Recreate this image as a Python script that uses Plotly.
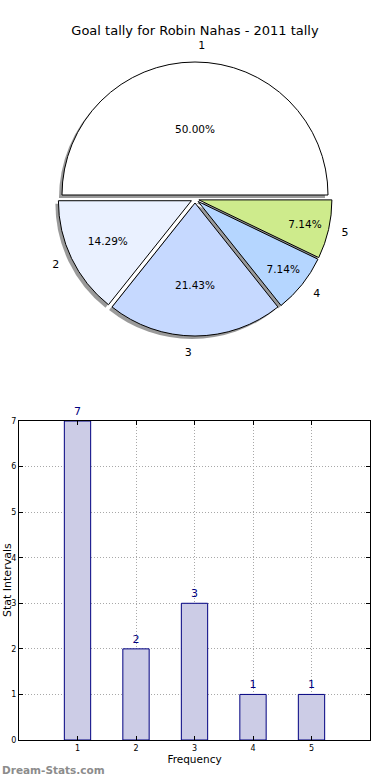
import plotly.graph_objects as go

# ---- data ----
pie_labels = ["1", "2", "3", "4", "5"]
pie_values = [7, 2, 3, 1, 1]
pie_colors = ["#FFFFFF", "#EAF1FF", "#C6D9FF", "#B5D6FF", "#CEEB8C"]
pie_pull = [0.03, 0.03, 0.03, 0.03, 0.03]

bar_x = [1, 2, 3, 4, 5]
bar_y = [7, 2, 3, 1, 1]
x_ticks = [1, 2, 3, 4, 5]
y_ticks = [0, 1, 2, 3, 4, 5, 6, 7]

W, H = 390, 780
FONT = "DejaVu Sans"

def px_x(p):
    return p / W

def px_y(p):
    return 1 - p / H

PIE_CY = 199
PIE_HALF = 137          # half of pie domain height (px)
LABEL_HALF = 147        # half of label-ring domain height (px)
sh = 3

pie_dom_y = [px_y(PIE_CY + PIE_HALF), px_y(PIE_CY - PIE_HALF)]
pie_dom_x = [0, 1]
shadow_dom_y = [px_y(PIE_CY + PIE_HALF + sh), px_y(PIE_CY - PIE_HALF + sh)]
shadow_dom_x = [0, 1 - 2 * sh / W]
label_dom_y = [px_y(PIE_CY + LABEL_HALF), px_y(PIE_CY - LABEL_HALF)]

fig = go.Figure()

# shadow
fig.add_trace(go.Pie(
    labels=pie_labels, values=pie_values, sort=False,
    direction="counterclockwise", rotation=-90, pull=pie_pull,
    marker=dict(colors=["rgba(120,120,120,0.75)"] * 5, line=dict(width=0)),
    textinfo="none", hoverinfo="skip", showlegend=False,
    domain=dict(x=shadow_dom_x, y=shadow_dom_y),
))
# main pie
fig.add_trace(go.Pie(
    labels=pie_labels, values=pie_values, sort=False,
    direction="counterclockwise", rotation=-90, pull=pie_pull,
    marker=dict(colors=pie_colors, line=dict(color="#000000", width=1)),
    texttemplate="%{percent:.2%}", textposition="inside",
    insidetextorientation="horizontal",
    textfont=dict(family=FONT, size=10.5, color="#000000"),
    showlegend=False,
    domain=dict(x=pie_dom_x, y=pie_dom_y),
))
# outer labels (transparent ring slightly larger than the pie)
fig.add_trace(go.Pie(
    labels=pie_labels, values=pie_values, sort=False,
    direction="counterclockwise", rotation=-90, pull=pie_pull,
    marker=dict(colors=["rgba(0,0,0,0)"] * 5, line=dict(width=0)),
    textinfo="label", textposition="outside",
    outsidetextfont=dict(family=FONT, size=11, color="#000000"),
    hoverinfo="skip", showlegend=False,
    domain=dict(x=pie_dom_x, y=label_dom_y),
))

# bars
fig.add_trace(go.Bar(
    x=bar_x, y=bar_y, width=0.45,
    marker=dict(color="#CCCCE6", line=dict(color="#000080", width=1)),
    text=[str(v) for v in bar_y], textposition="outside",
    textfont=dict(family=FONT, size=11, color="#000080"),
    cliponaxis=False, showlegend=False,
))

axis_common = dict(
    showline=True, linecolor="#000000", linewidth=1, mirror="ticks",
    ticks="inside", ticklen=4, tickcolor="#000000",
    showgrid=True, gridcolor="#A8A8A8", griddash="1px,2px", gridwidth=1,
    zeroline=False, layer="above traces",
    tickfont=dict(family=FONT, size=8, color="#000000"),
)

fig.update_layout(
    width=W, height=H,
    margin=dict(l=0, r=0, t=0, b=0, autoexpand=False),
    paper_bgcolor="#FFFFFF", plot_bgcolor="#FFFFFF",
    font=dict(family=FONT, color="#000000"),
    title=dict(text="Goal tally for Robin Nahas - 2011 tally",
               x=0.5, xanchor="center", y=px_y(30), yanchor="middle",
               font=dict(family=FONT, size=13, color="#000000")),
    uniformtext=dict(minsize=10.5, mode="show"),
    xaxis=dict(domain=[px_x(19), px_x(370)], range=[0, 6],
               tickvals=x_ticks, ticktext=[str(t) for t in x_ticks],
               title=dict(text="Frequency", standoff=4,
                          font=dict(family=FONT, size=10.5)),
               automargin=False, **axis_common),
    yaxis=dict(domain=[px_y(740), px_y(421)], range=[0, 7],
               tickvals=y_ticks, ticktext=[str(t) for t in y_ticks],
               automargin=False, **axis_common),
    annotations=[
        dict(text="Stat Intervals", textangle=-90, xref="paper", yref="paper",
             x=px_x(7), y=px_y(580), xanchor="center", yanchor="middle",
             showarrow=False, font=dict(family=FONT, size=11, color="#000000")),
        dict(text="<b>Dream-Stats.com</b>", xref="paper", yref="paper",
             x=0, y=px_y(770), xanchor="left", yanchor="middle",
             showarrow=False, font=dict(family=FONT, size=10.5, color="#8C8C8C")),
    ],
)

fig.write_html("out.html", config={"displayModeBar": False},
               post_script="document.body.style.margin='0px';")
